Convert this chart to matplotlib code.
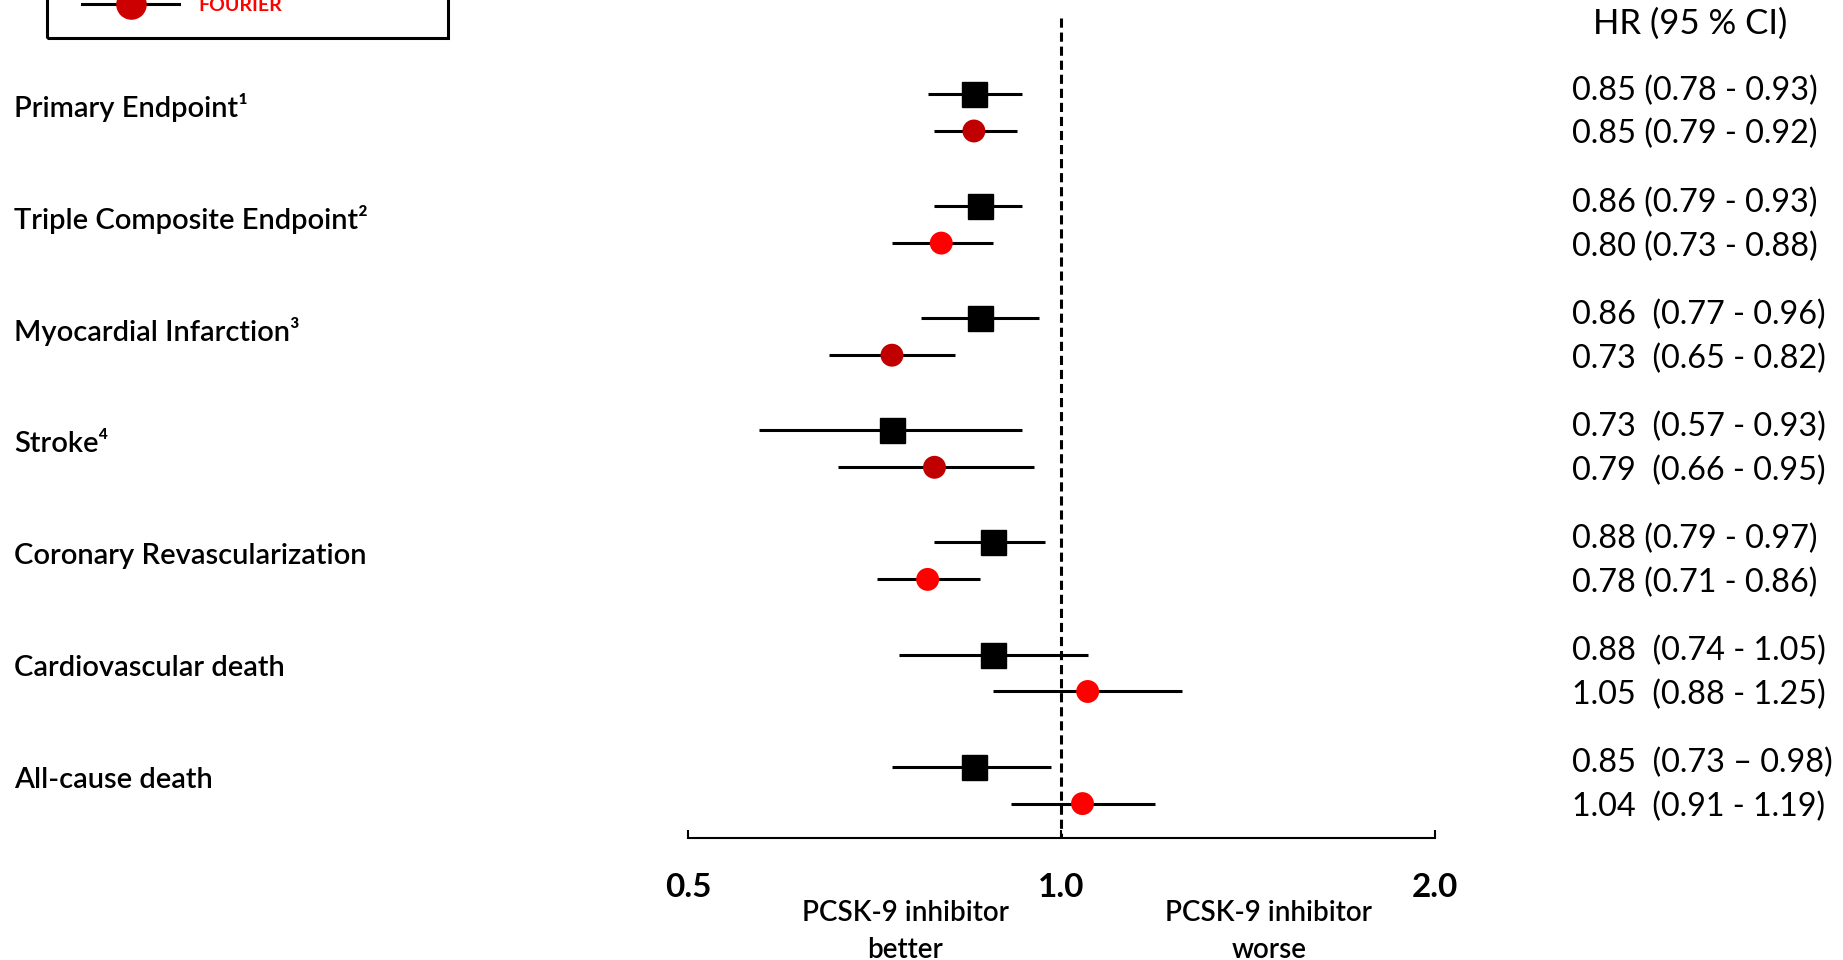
import numpy as np
import matplotlib
matplotlib.use('Agg')
import matplotlib.pyplot as plt
import matplotlib.transforms as mtransforms
from matplotlib.lines import Line2D
from matplotlib.patches import Rectangle
from matplotlib.ticker import NullLocator

plt.rcParams['font.family'] = ['Lato', 'DejaVu Sans']

endpoints = ['Primary Endpoint¹', 'Triple Composite Endpoint²', 'Myocardial Infarction³',
             'Stroke⁴', 'Coronary Revascularization', 'Cardiovascular death',
             'All-cause death']

# ODYSSEY OUTCOMES (black squares)
hr_ody = [0.85, 0.86, 0.86, 0.73, 0.88, 0.88, 0.85]
lo_ody = [0.78, 0.79, 0.77, 0.57, 0.79, 0.74, 0.73]
hi_ody = [0.93, 0.93, 0.96, 0.93, 0.97, 1.05, 0.98]
txt_ody = ['0.85 (0.78 - 0.93)', '0.86 (0.79 - 0.93)', '0.86  (0.77 - 0.96)',
           '0.73  (0.57 - 0.93)', '0.88 (0.79 - 0.97)', '0.88  (0.74 - 1.05)',
           '0.85  (0.73 \u2013 0.98)']

# FOURIER (red circles)
hr_fou = [0.85, 0.80, 0.73, 0.79, 0.78, 1.05, 1.04]
lo_fou = [0.79, 0.73, 0.65, 0.66, 0.71, 0.88, 0.91]
hi_fou = [0.92, 0.88, 0.82, 0.95, 0.86, 1.25, 1.19]
txt_fou = ['0.85 (0.79 - 0.92)', '0.80 (0.73 - 0.88)', '0.73  (0.65 - 0.82)',
           '0.79  (0.66 - 0.95)', '0.78 (0.71 - 0.86)', '1.05  (0.88 - 1.25)',
           '1.04  (0.91 - 1.19)']
fou_colors = ['#C00000', '#FF0000', '#C00000', '#C00000', '#FF0000', '#FF0000', '#FF0000']

xticks = [0.5, 1.0, 2.0]
xtick_labels = ['0.5', '1.0', '2.0']

W, H = 1843, 960
fig = plt.figure(figsize=(W / 100, H / 100), dpi=100)
ax = fig.add_axes([0, 0, 1, 1])

# layout of the original picture, in pixels
X1_PX, OCT_PX = 1061.4, 373.2      # x of HR=1 and width of one doubling
ROW0_PX, ROW_PX = 94.0, 112.1      # y of first row and row pitch


def py(p):
    """pixel row -> data y"""
    return (p - ROW0_PX) / ROW_PX


ax.set_xscale('log', base=2)
ax.set_xlim(2 ** (-X1_PX / OCT_PX), 2 ** ((W - X1_PX) / OCT_PX))
ax.set_ylim(py(H), py(0))

rows = np.arange(len(endpoints))
y_ody = rows
y_fou = rows + 0.33
axis_y = py(838)

ax.hlines(y_ody, lo_ody, hi_ody, color='black', lw=2.2, zorder=2)
ax.plot(hr_ody, y_ody, 's', color='black', ms=18, zorder=3)
ax.hlines(y_fou, lo_fou, hi_fou, color='black', lw=2.2, zorder=2)
ax.scatter(hr_fou, y_fou, s=16.5 ** 2, c=fou_colors, marker='o', linewidths=0, zorder=3)

ax.vlines(1.0, py(18), axis_y, colors='black', linestyles=(0, (3, 1.6)), lw=2.2)

for s in ['left', 'top', 'right']:
    ax.spines[s].set_visible(False)
ax.spines['bottom'].set_position(('data', axis_y))
ax.spines['bottom'].set_bounds(0.5, 2.0)
ax.spines['bottom'].set_linewidth(1.5)
ax.set_xticks(xticks, xtick_labels)
ax.xaxis.set_minor_locator(NullLocator())
ax.tick_params(axis='x', direction='in', length=6, width=1.5, pad=25, labelsize=24)
for lab in ax.get_xticklabels():
    lab.set_fontweight('bold')
ax.set_yticks([])

trans = mtransforms.blended_transform_factory(ax.transAxes, ax.transData)

for i, name in enumerate(endpoints):
    ax.text(14 / W, rows[i] + 0.12, name, transform=trans, ha='left', va='center',
            fontsize=21, fontweight='semibold')

ax.text(1690 / W, py(23.5), 'HR (95 % CI)', transform=trans, ha='center', va='center',
        fontsize=25)
for i in range(len(endpoints)):
    ax.text(1572 / W, y_ody[i] - 0.03, txt_ody[i], transform=trans, ha='left', va='center',
            fontsize=23.3)
    ax.text(1572 / W, y_fou[i] + 0.03, txt_fou[i], transform=trans, ha='left', va='center',
            fontsize=23.3)

for xc, word in [(0.748, 'better'), (1.47, 'worse')]:
    ax.text(xc, py(913), 'PCSK-9 inhibitor', ha='center', va='center', fontsize=20,
            fontweight='semibold')
    ax.text(xc, py(950), word, ha='center', va='center', fontsize=20, fontweight='semibold')

# legend box, mostly cut off by the top edge
fig.patches.append(Rectangle((47 / W, 1 - 38 / H), 401 / W, 0.2, transform=fig.transFigure,
                             fill=False, edgecolor='black', lw=2.2))
handles = [Line2D([0], [0], color='black', lw=2.2, marker='s', ms=20, mfc='black', mec='black'),
           Line2D([0], [0], color='black', lw=2.2, marker='o', ms=21, mfc='#CC0000', mec='#CC0000')]
leg = fig.legend(handles, ['ODYSSEY OUTCOMES', 'FOURIER'], loc='lower left',
                 bbox_to_anchor=(82 / W, 1 - 14 / H), frameon=False, borderpad=0,
                 borderaxespad=0, handlelength=5.0, handletextpad=1.0,
                 prop={'size': 14, 'weight': 'bold'})
for t, c in zip(leg.get_texts(), ['black', '#FF0000']):
    t.set_color(c)

fig.savefig('out.png', dpi=100)
